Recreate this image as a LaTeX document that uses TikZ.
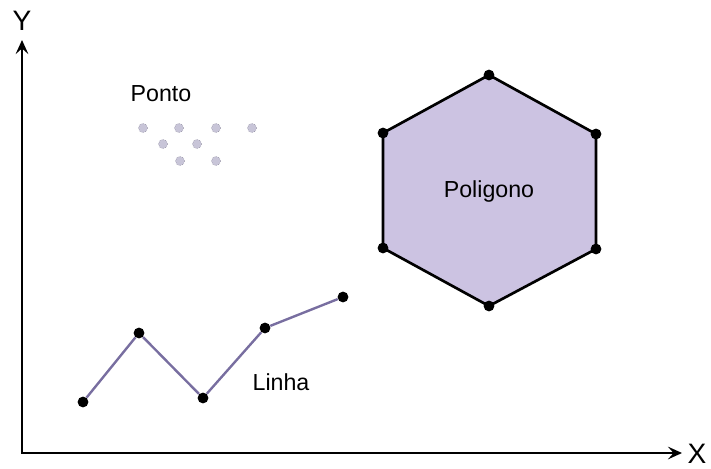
\documentclass[tikz,border=0pt]{standalone}
\usepackage{fontspec}
\setmainfont{Liberation Sans}
\usetikzlibrary{arrows.meta}
\definecolor{polyfill}{RGB}{204,195,226}
\definecolor{linecol}{RGB}{120,110,160}
\definecolor{ptfill}{RGB}{200,197,216}
\definecolor{ptedge}{RGB}{135,132,150}

\begin{document}
\begin{tikzpicture}[x=0.025cm, y=-0.025cm, >={Stealth[length=10pt, width=9pt, inset=4pt]},
  vertex/.style={circle, fill=black, inner sep=0pt, minimum size=0.27cm},
  pt/.style={circle, draw=ptedge, densely dotted, fill=ptfill, inner sep=0pt, minimum size=0.23cm},
  lbl/.style={anchor=base, inner sep=0pt, font=\fontsize{16.5}{19}\selectfont},
  axlbl/.style={anchor=base, inner sep=0pt, font=\fontsize{20}{24}\selectfont}]
  \useasboundingbox (0,0) rectangle (711,468);

  % axes
  \coordinate (o) at (22,453);
  \coordinate (ytip) at (22,40);
  \coordinate (xtip) at (682,453);
  \draw[<->, line width=1.8pt] (ytip) -- (o) -- (xtip);
  \node[axlbl] (ylab) at (22,30) {Y};
  \node[axlbl] (xlab) at (697,463) {X};

  % ponto
  \node[lbl] (ponto) at (161,101) {Ponto};
  \node[pt] (p1) at (143,128) {};
  \node[pt] (p2) at (179,128) {};
  \node[pt] (p3) at (216,128) {};
  \node[pt] (p4) at (252,128) {};
  \node[pt] (p5) at (163,144) {};
  \node[pt] (p6) at (197,144) {};
  \node[pt] (p7) at (180,161) {};
  \node[pt] (p8) at (216,161) {};

  % linha
  \node[vertex] (l1) at (83,402) {};
  \node[vertex] (l2) at (139,333) {};
  \node[vertex] (l3) at (203,398) {};
  \node[vertex] (l4) at (265,328) {};
  \node[vertex] (l5) at (343,297) {};
  \draw[linecol, line width=1.7pt] (l1) -- (l2) -- (l3) -- (l4) -- (l5);
  \node[lbl] (linha) at (281,390) {Linha};

  % poligono
  \coordinate (h1) at (489,75);
  \coordinate (h2) at (596,134);
  \coordinate (h3) at (596,249);
  \coordinate (h4) at (489,306);
  \coordinate (h5) at (383,248);
  \coordinate (h6) at (383,133);
  \draw[line width=1.9pt, fill=polyfill] (h1) -- (h2) -- (h3) -- (h4) -- (h5) -- (h6) -- cycle;
  \foreach \v in {h1,h2,h3,h4,h5,h6}
    \node[vertex] at (\v) {};
  \node[lbl] (poligono) at (489,197) {Poligono};
\end{tikzpicture}
\end{document}
